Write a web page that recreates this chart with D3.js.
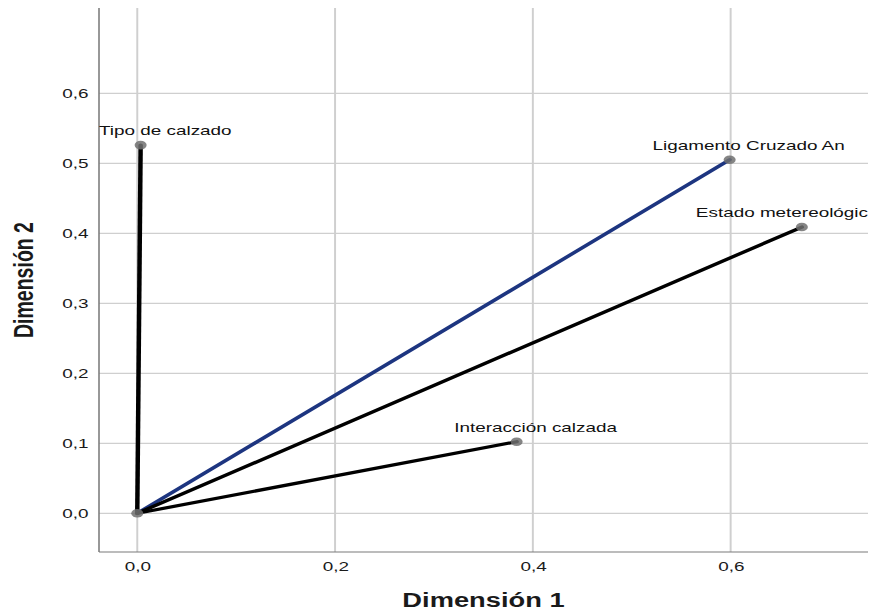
<!DOCTYPE html>
<html><head><meta charset="utf-8">
<script src="https://cdn.jsdelivr.net/npm/d3@7"></script>
<style>html,body{margin:0;padding:0;background:#fff;}svg{display:block;}</style>
</head><body>
<script>
// ---- data ----
const variables = ["Tipo de calzado", "Ligamento Cruzado An", "Estado metereológic", "Interacción calzada"];
const dim1 = [0.0034, 0.599, 0.672, 0.3836];
const dim2 = [0.526, 0.505, 0.409, 0.1023];
const xTicks = [0.0, 0.2, 0.4, 0.6];
const yTicks = [0.0, 0.1, 0.2, 0.3, 0.4, 0.5, 0.6];
const xDomain = [-0.0387, 0.7389];
const yDomain = [-0.0553, 0.7219];

(function () {
// ---- layout ----
const W = 869, H = 611, SX = 1.4;
const pLeft = 99, pRight = 868, pTop = 8, pBottom = 552;
const svg = d3.select("body").append("svg").attr("width", W).attr("height", H);
const g = svg.append("g").attr("transform", `scale(${SX},1)`);
const x = d3.scaleLinear().domain(xDomain).range([pLeft / SX, pRight / SX]);
const y = d3.scaleLinear().domain(yDomain).range([pBottom, pTop]);
const fmt = v => d3.format(".1f")(v).replace(".", ",");
const font = "'Liberation Sans', Arial, sans-serif";

// grid
g.append("g").selectAll("line").data(yTicks).join("line")
  .attr("x1", pLeft / SX).attr("x2", pRight / SX)
  .attr("y1", d => y(d)).attr("y2", d => y(d))
  .attr("stroke", "#cfcfcf").attr("stroke-width", 1.3);
g.append("g").selectAll("line").data(xTicks).join("line")
  .attr("x1", d => x(d)).attr("x2", d => x(d))
  .attr("y1", pTop).attr("y2", pBottom)
  .attr("stroke", "#cfcfcf").attr("stroke-width", 1.4);

// axes (no tick marks)
const xAxis = g.append("g").attr("transform", `translate(0,${pBottom})`)
  .call(d3.axisBottom(x).tickValues(xTicks).tickFormat(fmt).tickSize(0).tickPadding(9));
const yAxis = g.append("g").attr("transform", `translate(${pLeft / SX},0)`)
  .call(d3.axisLeft(y).tickValues(yTicks).tickFormat(fmt).tickSize(0).tickPadding(7.5));
[xAxis, yAxis].forEach(a => {
  a.select(".domain").attr("stroke", "#7a7a7a").attr("stroke-width", 1.1);
  a.selectAll("text").attr("font-family", font).attr("font-size", 13.5).attr("fill", "#1a1a1a");
});
xAxis.selectAll(".domain").attr("d", `M${pLeft / SX},0H${pRight / SX}`);
yAxis.selectAll(".domain").attr("d", `M0,${pTop}V${pBottom}`);

// vectors from origin
const data = variables.map((v, i) => ({ name: v, d1: dim1[i], d2: dim2[i], i }));
g.append("g").selectAll("line").data(data).join("line")
  .attr("x1", x(0)).attr("y1", y(0))
  .attr("x2", d => x(d.d1)).attr("y2", d => y(d.d2))
  .attr("stroke", d => d.i === 1 ? "#1d3580" : "#000")
  .attr("stroke-width", 3.2).attr("stroke-linecap", "round");

// markers
g.append("g").selectAll("circle").data([{ d1: 0, d2: 0 }].concat(data)).join("circle")
  .attr("cx", d => x(d.d1)).attr("cy", d => y(d.d2)).attr("r", 4.3)
  .attr("fill", "#707070").attr("fill-opacity", 0.85);

// labels
const lab = g.append("g").selectAll("text").data(data).join("text")
  .attr("font-family", font).attr("font-size", 13.5).attr("fill", "#111")
  .attr("text-anchor", "middle")
  .attr("y", d => y(d.d2) - 10)
  .text(d => d.name);
lab.each(function (d) {
  const w = this.getComputedTextLength();
  let cx = x(d.d1) + 19 / SX;
  cx = Math.max(pLeft / SX + w / 2, Math.min(pRight / SX - w / 2, cx));
  d3.select(this).attr("x", cx);
});

// axis titles
g.append("text").attr("x", (pLeft + pRight) / 2 / SX).attr("y", 607)
  .attr("text-anchor", "middle").attr("font-family", font).attr("font-weight", "bold")
  .attr("font-size", 19.5).attr("fill", "#1a1a1a").text("Dimensión 1");
g.append("text").attr("transform", `translate(${33 / SX},${(pTop + pBottom) / 2}) rotate(-90)`)
  .attr("text-anchor", "middle").attr("font-family", font).attr("font-weight", "bold")
  .attr("font-size", 19.5).attr("fill", "#1a1a1a").text("Dimensión 2");
})();
</script>
</body></html>
